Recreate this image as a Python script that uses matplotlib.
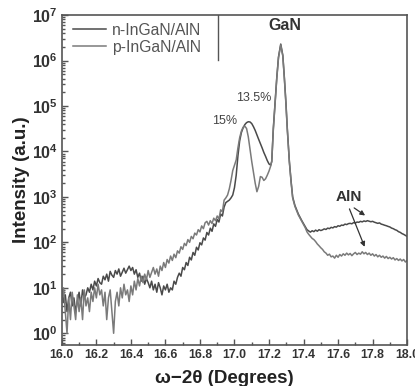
import numpy as np
import matplotlib
matplotlib.use("Agg")
import matplotlib.pyplot as plt
from matplotlib.ticker import FuncFormatter, MultipleLocator, LogLocator, NullFormatter

# Datos (omega-2theta, intensidad)
x_bajo = [16.00, 16.01, 16.02, 16.03, 16.04, 16.05, 16.06, 16.07, 16.08, 16.09,
          16.10, 16.11, 16.12, 16.13, 16.14, 16.15, 16.16, 16.17, 16.18, 16.19,
          16.20, 16.21, 16.22, 16.23, 16.24, 16.25, 16.26, 16.27, 16.28, 16.29,
          16.30, 16.31, 16.32, 16.33, 16.34, 16.35, 16.36, 16.37, 16.38, 16.39,
          16.40, 16.41, 16.42, 16.43, 16.44, 16.45, 16.46, 16.47, 16.48, 16.49,
          16.50, 16.51, 16.52, 16.53, 16.54, 16.55, 16.56, 16.57, 16.58, 16.59,
          16.60, 16.61, 16.62, 16.63, 16.64, 16.65, 16.66, 16.67, 16.68, 16.69,
          16.70, 16.71, 16.72, 16.73, 16.74, 16.75, 16.76, 16.77, 16.78, 16.79,
          16.80, 16.81, 16.82, 16.83, 16.84, 16.85, 16.86, 16.87, 16.88, 16.89,
          16.90]
x_medio = [16.91, 16.92, 16.93, 16.94, 16.95, 16.96, 16.97, 16.98, 16.99, 17.00,
           17.01, 17.02, 17.03, 17.04, 17.05, 17.06, 17.07, 17.08, 17.09, 17.10,
           17.11, 17.12, 17.13, 17.14, 17.15, 17.16, 17.17, 17.18, 17.19, 17.20,
           17.21]
x_gan = [17.216, 17.225, 17.235, 17.245, 17.255, 17.268, 17.28, 17.289, 17.298,
         17.306, 17.318, 17.328, 17.337, 17.35, 17.37, 17.39, 17.41]
x_cola = [17.42, 17.43, 17.44, 17.45, 17.46, 17.47, 17.48, 17.49, 17.50, 17.51,
          17.52, 17.53, 17.54, 17.55, 17.56, 17.57, 17.58, 17.59, 17.60, 17.61,
          17.62, 17.63, 17.64, 17.65, 17.66, 17.67, 17.68, 17.69, 17.70, 17.71,
          17.72, 17.73, 17.74, 17.75, 17.76, 17.77, 17.78, 17.79, 17.80, 17.81,
          17.82, 17.83, 17.84, 17.85, 17.86, 17.87, 17.88, 17.89, 17.90, 17.91,
          17.92, 17.93, 17.94, 17.95, 17.96, 17.97, 17.98, 17.99, 18.00]

n_bajo = [9, 5, 7, 3, 6, 8, 4, 6, 3, 5,
          8, 4, 9, 6, 7, 10, 8, 12, 9, 14,
          11, 16, 13, 12, 18, 15, 20, 14, 23, 19,
          17, 24, 20, 26, 18, 22, 27, 21, 25, 30,
          24, 28, 20, 25, 17, 21, 14, 18, 12, 16,
          13, 10, 14, 9, 12, 8, 13, 10, 7, 11,
          9, 12, 8, 10, 9, 14, 12, 17, 21, 18,
          28, 25, 36, 31, 47, 41, 60, 52, 78, 68,
          98, 88, 125, 112, 165, 145, 205, 175, 255, 225,
          320]
n_medio = [280, 420, 380, 600, 750, 800, 850, 950, 1100, 1600,
           3000, 8000, 17000, 26000, 33000, 39000, 43000, 45000, 44500, 41000,
           35000, 29000, 23000, 18500, 15000, 12000, 9500, 7800, 6300, 5300,
           5000]
n_gan = [6000, 32000, 120000, 420000, 1200000, 2300000, 1300000, 420000, 120000,
         32000, 6000, 2200, 1000, 650, 420, 300, 220]
n_cola = [190, 178, 168, 180, 172, 186, 176, 190, 182, 188,
          198, 192, 206, 200, 214, 208, 222, 216, 232, 226,
          240, 236, 252, 246, 258, 262, 256, 272, 266, 280,
          276, 290, 282, 296, 288, 300, 292, 284, 290, 278,
          270, 262, 268, 252, 246, 238, 232, 224, 218, 206,
          200, 190, 184, 172, 166, 156, 150, 142, 135]

p_bajo = [5, 10, 3, 1, 6, 2, 8, 4, 2, 7,
          3, 6, 2, 9, 4, 6, 3, 8, 5, 10,
          6, 12, 7, 9, 4, 8, 2, 6, 9, 3,
          1, 5, 8, 4, 10, 6, 12, 7, 9, 5,
          11, 7, 14, 9, 16, 11, 18, 13, 20, 15,
          24, 17, 22, 28, 20, 26, 18, 30, 24, 36,
          28, 42, 35, 50, 40, 55, 46, 65, 58, 80,
          70, 95, 85, 115, 100, 135, 120, 160, 145, 190,
          170, 230, 200, 270, 290, 240, 300, 260, 340, 300,
          380]
p_medio = [330, 520, 470, 850, 950, 1100, 1500, 2300, 3800, 5000,
           6500, 12000, 20000, 28000, 34000, 36000, 32000, 21000, 11000, 6000,
           3500, 2000, 1300, 1700, 2800, 2700, 2300, 2500, 3000, 3700,
           4800]
p_gan = [6200, 30000, 110000, 400000, 1150000, 2200000, 1250000, 400000, 110000,
         30000, 5800, 2100, 950, 620, 400, 290, 210]
p_cola = [170, 150, 135, 122, 115, 104, 92, 84, 76, 70,
          62, 58, 52, 55, 48, 50, 45, 52, 47, 54,
          50, 56, 52, 58, 53, 57, 51, 56, 60, 54,
          58, 55, 62, 56, 60, 54, 58, 52, 56, 50,
          54, 48, 52, 47, 50, 45, 49, 44, 47, 43,
          46, 41, 44, 40, 43, 39, 42, 37, 40]

etiquetas = ["n-InGaN/AlN", "p-InGaN/AlN"]
decadas = [1, 10, 100, 1e3, 1e4, 1e5, 1e6, 1e7]

plt.rcParams['font.family'] = ['Liberation Sans', 'DejaVu Sans']
plt.rcParams['mathtext.fontset'] = 'custom'
plt.rcParams['mathtext.bf'] = 'Liberation Sans:bold'
plt.rcParams['mathtext.rm'] = 'Liberation Sans'

GRIS = "#555555"

x = x_bajo + x_medio + x_gan + x_cola
y_n = n_bajo + n_medio + n_gan + n_cola
y_p = p_bajo + p_medio + p_gan + p_cola

fig = plt.figure(figsize=(4.15, 3.86), dpi=100)
ax = fig.add_axes([0.149, 0.106, 0.832, 0.855])

ax.plot(x, y_n, color="#4a4a4a", lw=1.1, label=etiquetas[0])
ax.plot(x, y_p, color="#7a7a7a", lw=1.1, label=etiquetas[1])

ax.set_yscale("log")
ax.set_xlim(16.0, 18.0)
ax.set_ylim(0.55, 1e7)

ax.xaxis.set_major_locator(MultipleLocator(0.2))
ax.xaxis.set_minor_locator(MultipleLocator(0.1))
ax.xaxis.set_major_formatter(FuncFormatter(lambda v, p: f"{v:.1f}"))
ax.set_yticks(decadas)
ax.yaxis.set_minor_locator(LogLocator(base=10, subs=np.arange(2, 10), numticks=12))
ax.yaxis.set_minor_formatter(NullFormatter())
ax.yaxis.set_major_formatter(FuncFormatter(
    lambda v, p: r"$\mathbf{10^{%d}}$" % int(round(np.log10(v)))))

ax.tick_params(which="both", direction="in", color=GRIS, width=1.0)
ax.tick_params(which="major", length=4)
ax.tick_params(which="minor", length=2)
ax.tick_params(axis="x", labelsize=8.8, pad=3, labelcolor="#333333")
ax.tick_params(axis="y", labelsize=11.5, pad=3, labelcolor="#333333")
for lab in ax.get_xticklabels():
    lab.set_fontweight("bold")
for s in ax.spines.values():
    s.set_color(GRIS)
    s.set_linewidth(1.2)

ax.set_xlabel("\u03c9\u22122\u03b8 (Degrees)", fontsize=13.5, fontweight="bold",
              color="#222222", labelpad=5)
ax.xaxis.set_label_coords(0.47, -0.075)
ax.set_ylabel("Intensity (a.u.)", fontsize=13.5, fontweight="bold",
              color="#222222", labelpad=1)

leg = ax.legend(loc="upper left", bbox_to_anchor=(0.0, 1.01), frameon=False,
                fontsize=11.3, handlelength=2.1, handletextpad=0.4,
                labelspacing=0.12, borderaxespad=0.3)
for t in leg.get_texts():
    t.set_color("#555555")
ax.plot([0.452, 0.452], [0.865, 1.0], transform=ax.transAxes, color=GRIS, lw=1.0)

ax.text(17.29, 6e6, "GaN", ha="center", va="center", fontsize=11.5,
        fontweight="bold", color="#333333")
ax.text(17.11, 1.5e5, "13.5%", ha="center", va="center", fontsize=9,
        color="#444444")
ax.text(16.945, 4.6e4, "15%", ha="center", va="center", fontsize=9,
        color="#444444")
ax.text(17.66, 1000, "AlN", ha="center", va="center", fontsize=11,
        fontweight="bold", color="#333333")
ax.annotate("", xy=(17.77, 360), xytext=(17.68, 620),
            arrowprops=dict(arrowstyle="-|>", color="#333333", lw=0.9,
                            mutation_scale=7))
ax.annotate("", xy=(17.76, 70), xytext=(17.66, 620),
            arrowprops=dict(arrowstyle="-|>", color="#333333", lw=0.9,
                            mutation_scale=7))

fig.savefig("out.png", dpi=100)
